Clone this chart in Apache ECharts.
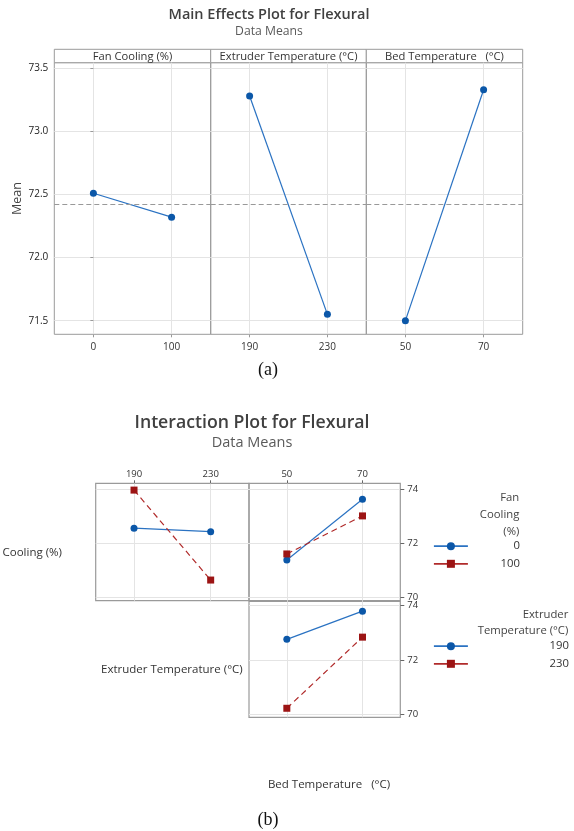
<!DOCTYPE html>
<html><head><meta charset="utf-8">
<script src="https://cdn.jsdelivr.net/npm/echarts@6/dist/echarts.min.js"></script>
<style>html,body{margin:0;padding:0;background:#fff}#c{width:574px;height:831px}</style>
</head><body><div id="c"></div>
<script>
// ---------- Main effects data ----------
const fanLevels = [0, 100];
const fanMeans = [72.51, 72.32];
const extLevels = [190, 230];
const extMeans = [73.28, 71.55];
const bedLevels = [50, 70];
const bedMeans = [71.50, 73.33];
const grandMean = 72.415;
const meanTicks = [71.5, 72.0, 72.5, 73.0, 73.5];
const panelTitles = ['Fan Cooling (%)', 'Extruder Temperature (°C)', 'Bed Temperature   (°C)'];

// ---------- Interaction data ----------
const fan0VsExt = [72.56, 72.43];
const fan100VsExt = [73.96, 70.65];
const fan0VsBed = [71.39, 73.62];
const fan100VsBed = [71.61, 73.01];
const ext190VsBed = [72.75, 73.78];
const ext230VsBed = [70.23, 72.83];
const interTicks = [70, 72, 74];
const fanNames = ['0', '100'];
const extNames = ['190', '230'];

const FONT = 'Open Sans';
const GRIDC = '#e4e4e4';
const FRAMEC = '#9a9a9a';
const BLUE = '#0b57a8';
const BLUEL = '#2a72c2';
const RED = '#9c1414';

// layout
const meX = [54.3, 210.7, 366.3, 522.7];
const meTop = 62.7, meBot = 334.3, meHead = 49.3;
const ipX = [95.7, 249, 400.3];
const ipR1 = [483.3, 600.7], ipR2 = [601.3, 717.3];

function pairs(xs, ys) { return xs.map((x, i) => [x, ys[i]]); }

const grids = [], xAxes = [], yAxes = [], series = [], graphics = [];

// main-effects panels
const meLev = [fanLevels, extLevels, bedLevels];
const meVal = [fanMeans, extMeans, bedMeans];
for (let i = 0; i < 3; i++) {
  const lv = meLev[i], span = lv[1] - lv[0];
  grids.push({ left: meX[i], top: meTop, width: meX[i + 1] - meX[i], height: meBot - meTop,
    show: true, borderColor: FRAMEC, borderWidth: 1, backgroundColor: 'transparent' });
  xAxes.push({ type: 'value', gridIndex: i, min: lv[0] - span / 2, max: lv[1] + span / 2,
    axisLine: { show: false },
    axisTick: { show: true, customValues: lv, length: 3, lineStyle: { color: FRAMEC } },
    axisLabel: { show: true, customValues: lv, margin: 8, color: '#333', fontFamily: FONT, fontSize: 10 },
    splitLine: { show: true, lineStyle: { color: GRIDC, width: 1 } } });
  yAxes.push({ type: 'value', gridIndex: i, min: 71.392, max: 73.544,
    name: i === 0 ? 'Mean' : '', nameLocation: 'middle', nameGap: 30, nameRotate: 90,
    nameTextStyle: { color: '#444', fontFamily: FONT, fontSize: 12.5 },
    axisLine: { show: false },
    axisTick: { show: i === 0, customValues: meanTicks, length: 3, lineStyle: { color: FRAMEC } },
    axisLabel: { show: i === 0, customValues: meanTicks, margin: 6, color: '#222', fontFamily: FONT, fontSize: 10,
      formatter: v => v.toFixed(1) },
    splitLine: { show: true, lineStyle: { color: GRIDC, width: 1 } } });
  series.push({ type: 'line', xAxisIndex: i, yAxisIndex: i, data: pairs(lv, meVal[i]),
    symbol: 'circle', symbolSize: 7, itemStyle: { color: BLUE },
    lineStyle: { color: BLUEL, width: 1.2 }, silent: true, animation: false,
    markLine: { silent: true, symbol: 'none', label: { show: false },
      lineStyle: { color: '#999', type: [5, 3], width: 1 }, data: [{ yAxis: grandMean }] } });
  // header strip
  graphics.push({ type: 'rect', shape: { x: meX[i], y: meHead, width: meX[i + 1] - meX[i], height: meTop - meHead },
    style: { fill: '#fff', stroke: FRAMEC, lineWidth: 1 } });
  graphics.push({ type: 'text', x: (meX[i] + meX[i + 1]) / 2, y: (meHead + meTop) / 2 + 0.5,
    style: { text: panelTitles[i], fill: '#333', font: '11.2px "' + FONT + '"', textAlign: 'center', textVerticalAlign: 'middle' } });
}

// interaction panels
const ipPanels = [
  { lv: extLevels, c: 0, r: ipR1, yr: [69.89, 74.21], top: true, right: false },
  { lv: bedLevels, c: 1, r: ipR1, yr: [69.89, 74.21], top: true, right: true },
  { lv: bedLevels, c: 1, r: ipR2, yr: [69.9, 74.14], top: false, right: true }
];
ipPanels.forEach((p, k) => {
  const gi = 3 + k, span = p.lv[1] - p.lv[0];
  grids.push({ left: ipX[p.c], top: p.r[0], width: ipX[p.c + 1] - ipX[p.c], height: p.r[1] - p.r[0],
    show: true, borderColor: FRAMEC, borderWidth: 1.2, backgroundColor: 'transparent' });
  xAxes.push({ type: 'value', gridIndex: gi, position: 'top', min: p.lv[0] - span / 2, max: p.lv[1] + span / 2,
    axisLine: { show: false },
    axisTick: { show: p.top, customValues: p.lv, length: 3, lineStyle: { color: '#666' } },
    axisLabel: { show: p.top, customValues: p.lv, margin: 4, color: '#333', fontFamily: FONT, fontSize: 9.5 },
    splitLine: { show: true, lineStyle: { color: GRIDC, width: 1 } } });
  yAxes.push({ type: 'value', gridIndex: gi, position: 'right', min: p.yr[0], max: p.yr[1],
    axisLine: { show: false },
    axisTick: { show: p.right, customValues: interTicks, length: 4, lineStyle: { color: '#666' } },
    axisLabel: { show: p.right, customValues: interTicks, margin: 7, color: '#333', fontFamily: FONT, fontSize: 9.5 },
    splitLine: { show: true, lineStyle: { color: GRIDC, width: 1 } } });
});
function ipLine(name, gi, xs, ys, red) {
  series.push({ name: name, type: 'line', xAxisIndex: gi, yAxisIndex: gi, data: pairs(xs, ys),
    symbol: red ? 'rect' : 'circle', symbolSize: 7,
    itemStyle: { color: red ? RED : BLUE },
    lineStyle: { color: red ? '#b02a2a' : BLUEL, width: 1.2, type: red ? [6, 4] : 'solid' },
    silent: true, animation: false });
}
ipLine(fanNames[0], 3, extLevels, fan0VsExt, false);
ipLine(fanNames[1], 3, extLevels, fan100VsExt, true);
ipLine(fanNames[0], 4, bedLevels, fan0VsBed, false);
ipLine(fanNames[1], 4, bedLevels, fan100VsBed, true);
ipLine(extNames[0], 5, bedLevels, ext190VsBed, false);
ipLine(extNames[1], 5, bedLevels, ext230VsBed, true);

function txt(s, x, y, size, color, align, weight, family) {
  graphics.push({ type: 'text', x: x, y: y, silent: true,
    style: { text: s, fill: color, textAlign: align || 'center', textVerticalAlign: 'middle',
      font: (weight || 'normal') + ' ' + size + 'px "' + (family || FONT) + '"' } });
}
txt('Main Effects Plot for Flexural', 269, 15, 14.5, '#404040', 'center', '600');
txt('Data Means', 269, 32, 12.2, '#5a5a5a');
txt('(a)', 268, 370, 18, '#111', 'center', 'normal', 'Liberation Serif');
txt('Interaction Plot for Flexural', 252, 422.7, 17.7, '#404040', 'center', '600');
txt('Data Means', 252, 443.3, 14.5, '#5a5a5a');
txt('Fan Cooling (%)', 62, 552.7, 11.5, '#333', 'right');
txt('Extruder Temperature (°C)', 242.7, 670, 11.5, '#333', 'right');
txt('Bed Temperature   (°C)', 329, 785, 11.5, '#333', 'center');
txt('(b)', 268, 820, 18, '#111', 'center', 'normal', 'Liberation Serif');
txt('Fan', 519.3, 497.3, 11.3, '#444', 'right');
txt('Cooling', 519.3, 514.3, 11.3, '#444', 'right');
txt('(%)', 519.3, 531.7, 11.3, '#444', 'right');
txt('Extruder', 568.3, 614.3, 11.3, '#444', 'right');
txt('Temperature (°C)', 568.3, 630.7, 11.3, '#444', 'right');

function legend(data, top, textW) {
  return { data: data, orient: 'vertical', left: 433, top: top, itemWidth: 34, itemHeight: 10, itemGap: 6.6,
    padding: 0, selectedMode: false,
    lineStyle: { type: 'solid', width: 1.8 },
    textStyle: { color: '#333', fontFamily: FONT, fontSize: 11.3,
      rich: { a: { width: textW, align: 'right', fontFamily: FONT, fontSize: 11.3, color: '#333' } } },
    formatter: n => '{a|' + n + '}' };
}

const chart = echarts.init(document.getElementById('c'), null, { renderer: 'canvas' });
chart.setOption({
  backgroundColor: '#fff', animation: false,
  grid: grids, xAxis: xAxes, yAxis: yAxes, series: series,
  legend: [legend(fanNames, 540.7, 47), legend(extNames, 640.7, 96)],
  graphic: graphics
});
</script></body></html>
